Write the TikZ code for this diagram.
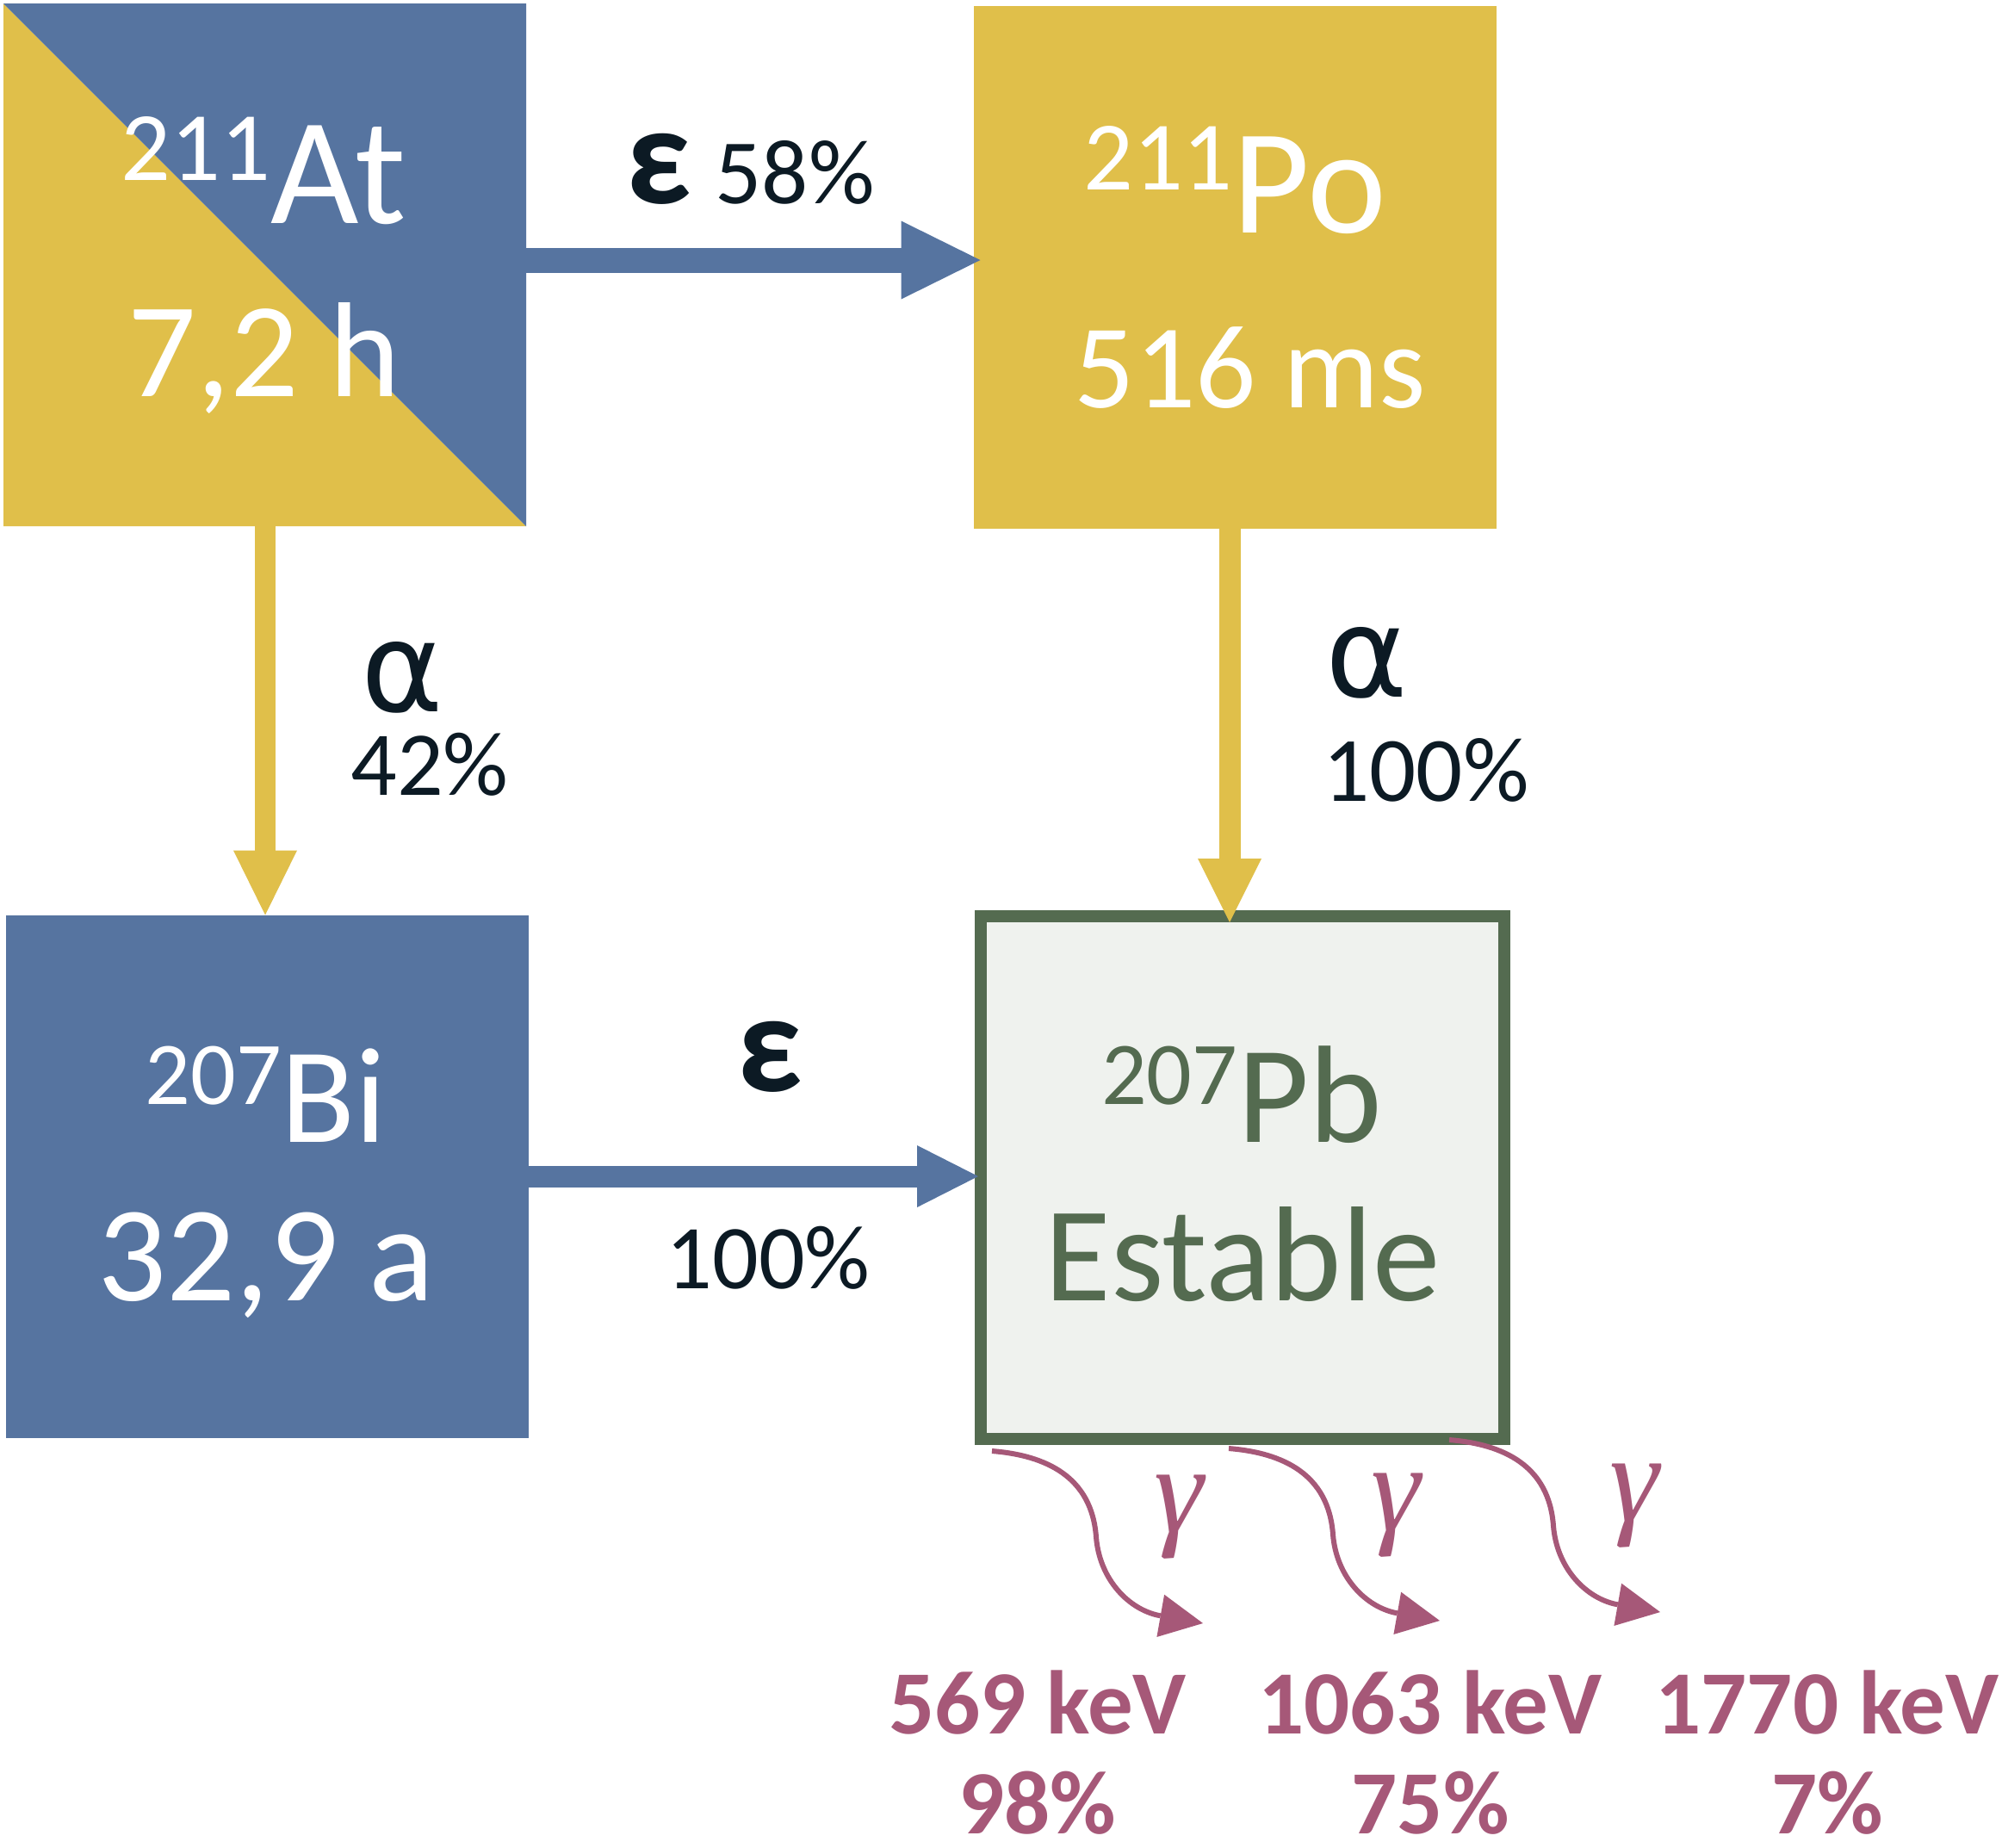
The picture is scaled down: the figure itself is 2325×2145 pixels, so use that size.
\documentclass[tikz,border=0pt]{standalone}
\usepackage{fontspec}
\setmainfont{Carlito}
\newfontfamily\gamfont{Liberation Serif}
\newfontfamily\alfont{DejaVu Sans}
\usetikzlibrary{arrows.meta}
\definecolor{blu}{RGB}{86,116,160}
\definecolor{yel}{RGB}{224,191,74}
\definecolor{pbfill}{RGB}{239,242,238}
\definecolor{pbgreen}{RGB}{84,107,80}
\definecolor{ink}{RGB}{12,26,36}
\definecolor{mauve}{RGB}{166,88,120}
\newcommand\fs[1]{\fontsize{#1pt}{#1pt}\selectfont}
\begin{document}
\begin{tikzpicture}[x=1pt,y=-1pt,
  box/.style={rectangle, inner sep=0pt, outer sep=0pt, minimum width=607pt, minimum height=607pt},
  lbl/.style={inner sep=0pt, outer sep=0pt, anchor=base},
  wtxt/.style={lbl, text=white},
  gtxt/.style={lbl, text=pbgreen},
  dtxt/.style={lbl, text=ink},
  ktxt/.style={lbl, text=mauve, font=\bfseries\fs{105}},
  gsym/.style={inner sep=0pt, outer sep=0pt, text=mauve, font=\gamfont\itshape\fs{145}},
  bluarrow/.style={draw=blu, line width=#1},
  yelarrow/.style={draw=yel, line width=#1},
  gamarrow/.style={draw=mauve, line width=6pt, -{Triangle[length=50pt,width=50pt,line width=0pt]}}
]
\fill[white] (0,0) rectangle (2325,2145);
\useasboundingbox (0,0) rectangle (2325,2145);

% boxes
\node[box] (at) at (307.5,307.5) {};
\fill[yel] (at.north west) -- (at.south east) -- (at.south west) -- cycle;
\fill[blu] (at.north west) -- (at.north east) -- (at.south east) -- cycle;
\node[box, fill=yel] (po) at (1434,310.5) {};
\node[box, fill=blu] (bi) at (310.5,1366) {};
\node[box, fill=pbfill, draw=pbgreen, line width=14pt, minimum width=608pt] (pb) at (1443,1367.5) {};

% box texts
\node[wtxt] (atname) at (306,259) {\raisebox{50pt}{\fs{114}211}\fs{177}At};
\node[wtxt] (athl) at (307,460) {\fs{157}7,2 h};
\node[wtxt] (poname) at (1434,270) {\raisebox{50pt}{\fs{114}211}\fs{174}Po};
\node[wtxt] (pohl) at (1452,473) {\fs{139}516 ms};
\node[wtxt] (biname) at (309,1326) {\raisebox{44pt}{\fs{104}207}\fs{158}Bi};
\node[wtxt] (bihl) at (309,1510) {\fs{158}32,9 a};
\node[gtxt] (pbname) at (1442,1326) {\raisebox{44pt}{\fs{104}207}\fs{161}Pb};
\node[gtxt] (pbhl) at (1443,1510) {\fs{157}Estable};

% decay arrows
\coordinate (ya) at (0,302);
\coordinate (xa) at (308,0);
\coordinate (xb) at (1428,0);
\coordinate (yb) at (0,1366);
\coordinate (potip) at ([xshift=8pt]po.west);
\coordinate (pbtop) at ([yshift=-7pt]pb.north);
\coordinate (pbleft) at ([xshift=-3pt]pb.west);
\draw[bluarrow=29pt, -{Triangle[length=92pt,width=91pt,line width=0pt]}] (at.east |- ya) -- (potip |- ya);
\draw[yelarrow=24pt, -{Triangle[length=75pt,width=74pt,line width=0pt]}] (at.south -| xa) -- (bi.north -| xa);
\draw[yelarrow=25pt, -{Triangle[length=74pt,width=74pt,line width=0pt]}] (po.south -| xb) -- (pbtop -| xb);
\draw[bluarrow=25pt, -{Triangle[length=71pt,width=72pt,line width=0pt]}] (bi.east |- yb) -- (pbleft |- yb);

% arrow labels
\node[dtxt] (eps1) at (765,236) {\bfseries\fs{165}ε};
\node[dtxt] (p58) at (923,236) {\fs{107}58\%};
\node[dtxt] (alp1) at (467,826) {\alfont\fs{145}α};
\node[dtxt] (p42) at (499,923) {\fs{106}42\%};
\node[dtxt] (alp2) at (1587,809) {\alfont\fs{145}α};
\node[dtxt] (p100a) at (1656,930) {\fs{107}100\%};
\node[dtxt] (eps2) at (894,1267) {\bfseries\fs{165}ε};
\node[dtxt] (p100b) at (892,1496) {\fs{106}100\%};

% gamma emissions
\coordinate (g1s) at (1152,1685);
\coordinate (g1e) at (1397,1885);
\coordinate (g2s) at (1427,1682);
\coordinate (g2e) at (1672,1882);
\coordinate (g3s) at (1683,1672);
\coordinate (g3e) at (1928,1872);
\draw[gamarrow] (g1s) .. controls (1215,1690) and (1268,1715) .. (1273,1785) .. controls (1277,1835) and (1312,1870) .. (g1e);
\draw[gamarrow] (g2s) .. controls (1490,1687) and (1543,1712) .. (1548,1782) .. controls (1552,1832) and (1587,1867) .. (g2e);
\draw[gamarrow] (g3s) .. controls (1746,1677) and (1799,1702) .. (1804,1772) .. controls (1808,1822) and (1843,1857) .. (g3e);
\node[gsym] (gam1) at (1369,1762) {γ};
\node[gsym] (gam2) at (1621,1760) {γ};
\node[gsym] (gam3) at (1898,1749) {γ};

% energies
\node[ktxt] (e1) at (1205,2013) {569 keV};
\node[ktxt] (i1) at (1205,2129) {98\%};
\node[ktxt] (e2) at (1661,2013) {1063 keV};
\node[ktxt] (i2) at (1661,2129) {75\%};
\node[ktxt] (e3) at (2122,2013) {1770 keV};
\node[ktxt] (i3) at (2122,2129) {7\%};
\end{tikzpicture}
\end{document}
